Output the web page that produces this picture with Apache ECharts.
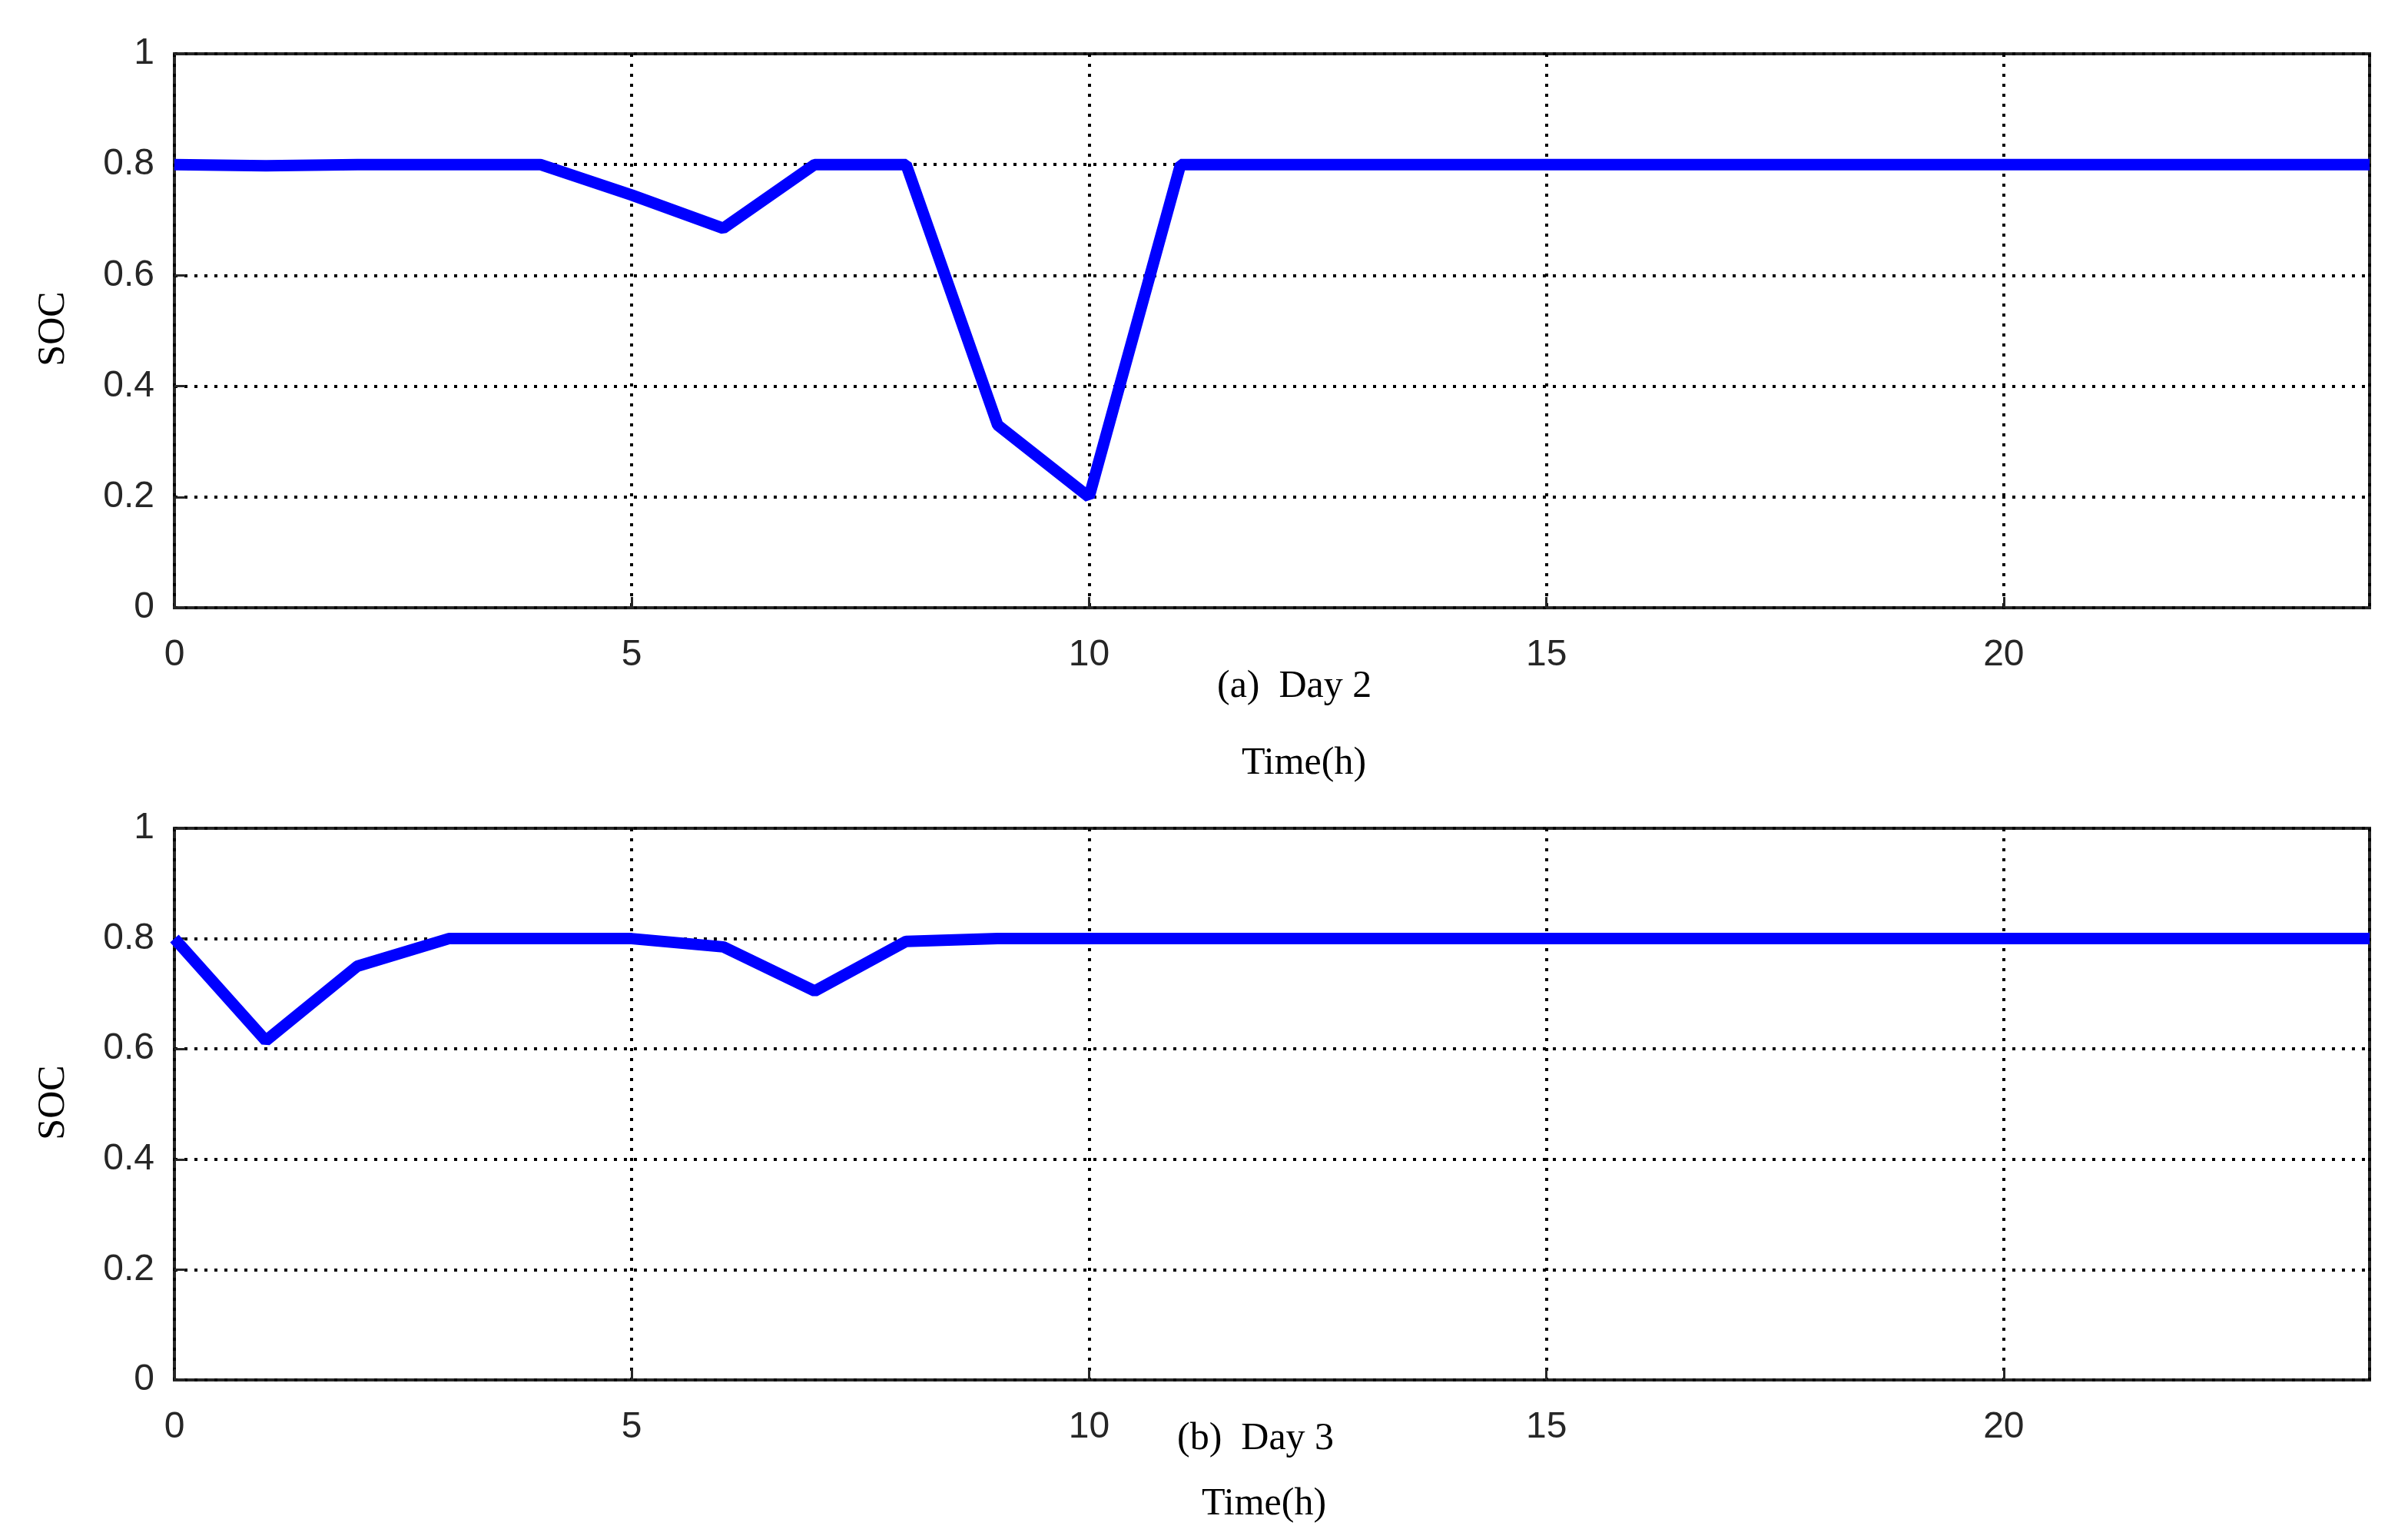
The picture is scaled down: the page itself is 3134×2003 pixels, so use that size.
<!DOCTYPE html>
<html>
<head>
    <meta charset="utf-8">
    <title>SOC</title>
    <script src="https://cdn.jsdelivr.net/npm/echarts@6/dist/echarts.min.js"></script>
</head>
<body style="margin:0;background:#fff">
    <div id="main" style="width:3134px;height:2003px;"></div>
    <script type="text/javascript">

    var hours = [0,1,2,3,4,5,6,7,8,9,10,11,12,13,14,15,16,17,18,19,20,21,22,23,24];
    var day2 = [0.8,0.798,0.8,0.8,0.8,0.745,0.685,0.8,0.8,0.33,0.2,0.8,0.8,0.8,0.8,0.8,0.8,0.8,0.8,0.8,0.8,0.8,0.8,0.8,0.8];
    var day3 = [0.8,0.615,0.75,0.8,0.8,0.8,0.785,0.705,0.795,0.8,0.8,0.8,0.8,0.8,0.8,0.8,0.8,0.8,0.8,0.8,0.8,0.8,0.8,0.8,0.8];

    var myChart = echarts.init(document.getElementById('main'));
    var tickFont = {fontFamily: 'Liberation Sans', fontSize: 48, color: '#262626'};
    var serif = {fontFamily: 'Liberation Serif', fontSize: 50, fill: '#000'};

    function xAxis(i) {
        return {
            type: 'value', gridIndex: i, min: 0, max: 24, interval: 5,
            axisLine: {show: false},
            axisTick: {inside: true, length: 14, lineStyle: {color: '#262626', width: 3}},
            axisLabel: Object.assign({margin: 38, showMaxLabel: false}, tickFont),
            splitLine: {lineStyle: {color: '#000', type: [4, 9], width: 4}}
        };
    }
    function yAxis(i) {
        return {
            type: 'value', gridIndex: i, min: 0, max: 1, interval: 0.2,
            axisLine: {show: false},
            axisTick: {inside: true, length: 14, lineStyle: {color: '#262626', width: 3}},
            axisLabel: Object.assign({margin: 26, formatter: function (v) { return +v.toFixed(1) + ''; }}, tickFont),
            splitLine: {lineStyle: {color: '#000', type: [4, 9], width: 4}}
        };
    }
    function line(i, data) {
        return {
            type: 'line', xAxisIndex: i, yAxisIndex: i, symbol: 'none',
            data: hours.map(function (h, k) { return [h, data[k]]; }),
            lineStyle: {color: '#0000ff', width: 15}
        };
    }

    var option = {
        animation: false,
        grid: [
            {left: 227, right: 50, top: 70, height: 721, show: true, borderColor: '#262626', borderWidth: 4},
            {left: 227, right: 50, top: 1078, height: 718, show: true, borderColor: '#262626', borderWidth: 4}
        ],
        xAxis: [xAxis(0), xAxis(1)],
        yAxis: [yAxis(0), yAxis(1)],
        series: [line(0, day2), line(1, day3)],
        graphic: [
            {type: 'text', left: 1702 - 118, top: 897 - 28, style: Object.assign({text: '(a)  Day 2'}, serif)},
            {type: 'text', left: 1708 - 92, top: 997 - 28, style: Object.assign({text: 'Time(h)'}, serif)},
            {type: 'text', left: 1650 - 118, top: 1876 - 28, style: Object.assign({text: '(b)  Day 3'}, serif)},
            {type: 'text', left: 1656 - 92, top: 1961 - 28, style: Object.assign({text: 'Time(h)'}, serif)},
            {type: 'text', x: 70, y: 428, rotation: Math.PI / 2, style: Object.assign({text: 'SOC', align: 'center', verticalAlign: 'middle'}, serif)},
            {type: 'text', x: 70, y: 1435, rotation: Math.PI / 2, style: Object.assign({text: 'SOC', align: 'center', verticalAlign: 'middle'}, serif)}
        ]
    };
    myChart.setOption(option);
    </script>
</body>
</html>
